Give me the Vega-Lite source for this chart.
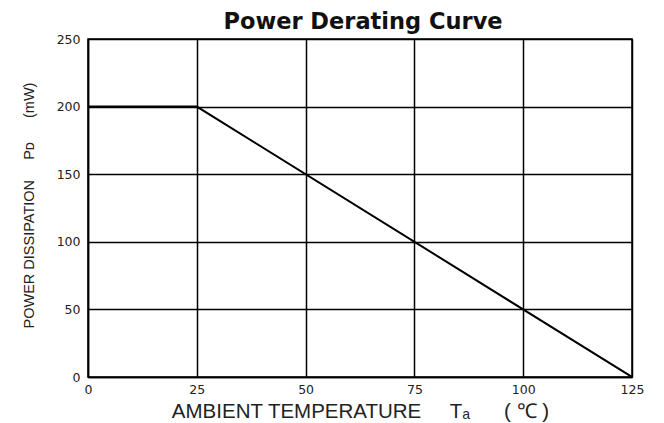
{
  "$schema": "https://vega.github.io/schema/vega-lite/v6.json",
  "autosize": {"type": "none"},
  "width": 544,
  "height": 338,
  "padding": {"left": 88, "top": 39, "right": 32, "bottom": 46},
  "background": "white",
  "title": {
    "text": "Power Derating Curve",
    "font": "DejaVu Sans",
    "fontSize": 22.5,
    "fontWeight": "bold",
    "color": "#111111",
    "anchor": "middle",
    "dx": 3,
    "offset": 0
  },
  "data": {
    "values": [
      {"temp": 0, "power": 200},
      {"temp": 25, "power": 200},
      {"temp": 125, "power": 0}
    ]
  },
  "mark": {"type": "line", "color": "#000000", "strokeWidth": 2, "clip": true},
  "encoding": {
    "x": {
      "field": "temp",
      "type": "quantitative",
      "scale": {"domain": [0, 125], "nice": false, "zero": false},
      "axis": {
        "values": [0, 25, 50, 75, 100, 125],
        "title": "AMBIENT TEMPERATURE\u00a0\u00a0\u00a0\u00a0\u00a0Tₐ\u00a0\u00a0\u00a0\u00a0\u00a0\u00a0(\u00a0℃\u00a0)",
        "titleFont": "Liberation Sans",
        "titleFontSize": 20.5,
        "titleFontWeight": "normal",
        "titleColor": "#222222",
        "titleY": 40,
        "titleBaseline": "alphabetic",
        "labelFont": "DejaVu Sans",
        "labelFontSize": 12.5,
        "labelColor": "#222222",
        "labelPadding": 6,
        "labelFlush": false,
        "tickSize": 0,
        "grid": true,
        "gridColor": "#000000",
        "gridWidth": 1.5,
        "gridOpacity": 1,
        "domainColor": "#000000",
        "domainWidth": 1.5
      }
    },
    "y": {
      "field": "power",
      "type": "quantitative",
      "scale": {"domain": [0, 250], "nice": false},
      "axis": {
        "values": [0, 50, 100, 150, 200, 250],
        "title": "POWER DISSIPATION\u00a0\u00a0\u00a0\u00a0\u00a0Pᴅ\u00a0\u00a0\u00a0\u00a0\u00a0\u00a0(mW)",
        "titleFont": "'Liberation Sans Narrow', 'Liberation Sans'",
        "titleFontSize": 14.5,
        "titleFontWeight": "normal",
        "titleColor": "#222222",
        "titleX": -55,
        "titleY": 166,
        "titleAlign": "center",
        "titleBaseline": "alphabetic",
        "titleAngle": -90,
        "labelFont": "DejaVu Sans",
        "labelFontSize": 12.5,
        "labelColor": "#222222",
        "labelPadding": 8,
        "labelFlush": false,
        "tickSize": 0,
        "grid": true,
        "gridColor": "#000000",
        "gridWidth": 1.5,
        "gridOpacity": 1,
        "domainColor": "#000000",
        "domainWidth": 1.5
      }
    }
  },
  "config": {
    "view": {"stroke": "#000000", "strokeWidth": 1.5}
  }
}
